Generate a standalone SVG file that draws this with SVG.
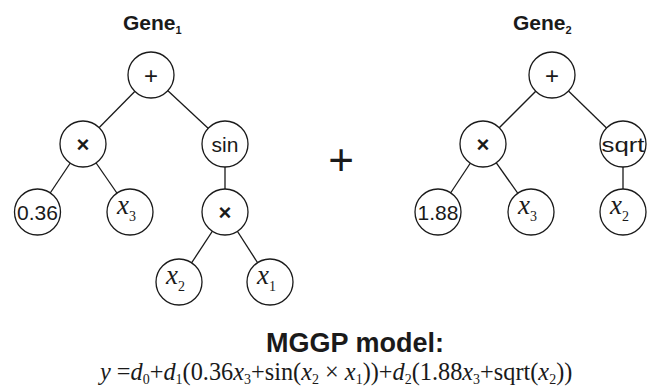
<svg xmlns="http://www.w3.org/2000/svg" width="652" height="386" viewBox="0 0 652 386">
  <style>
    .edge { stroke: #1a1a1a; stroke-width: 1.3; fill: none; }
    .node circle { fill: #ffffff; stroke: #1a1a1a; stroke-width: 1.3; }
    .lbl { font-family: "Liberation Sans", Arial, sans-serif; font-size: 21px; fill: #1a1a1a; text-anchor: middle; }
    .op { font-family: "Liberation Sans", Arial, sans-serif; font-size: 24px; fill: #1a1a1a; text-anchor: middle; }
    .mul { font-family: "Liberation Sans", Arial, sans-serif; font-size: 22px; font-weight: bold; fill: #1a1a1a; text-anchor: middle; }
    .var { font-family: "Liberation Serif", "Times New Roman", serif; font-size: 27px; font-style: italic; fill: #1a1a1a; }
    .sub { font-style: normal; font-size: 14px; }
    .title { font-family: "Liberation Sans", Arial, sans-serif; font-size: 21px; font-weight: bold; fill: #1a1a1a; }
    .tsub { font-size: 11px; }
    .eq { font-family: "Liberation Serif", "Times New Roman", serif; font-size: 24.3px; fill: #1a1a1a; }
    .it { font-style: italic; }
    .esub { font-size: 14px; }
  </style>

  <!-- tree edges -->
  <g id="connectors">
    <line class="edge" x1="151" y1="75" x2="83" y2="144"/>
    <line class="edge" x1="151" y1="75" x2="225" y2="144"/>
    <line class="edge" x1="83" y1="144" x2="37.5" y2="212"/>
    <line class="edge" x1="83" y1="144" x2="130" y2="212"/>
    <line class="edge" x1="225" y1="144" x2="225" y2="212"/>
    <line class="edge" x1="225" y1="212" x2="179" y2="282"/>
    <line class="edge" x1="225" y1="212" x2="270" y2="282"/>

    <line class="edge" x1="552" y1="75" x2="483" y2="144"/>
    <line class="edge" x1="552" y1="75" x2="623" y2="144"/>
    <line class="edge" x1="483" y1="144" x2="438" y2="212"/>
    <line class="edge" x1="483" y1="144" x2="531" y2="212"/>
    <line class="edge" x1="623" y1="144" x2="623" y2="212"/>
  </g>

  <!-- Gene 1 -->
  <text class="title" x="123" y="30">Gene<tspan class="tsub" dy="4">1</tspan></text>
  <g id="g1-plus" class="node"><circle cx="151" cy="75" r="23"/><text class="op" x="151" y="83.5">+</text></g>
  <g id="g1-times" class="node"><circle cx="83" cy="144" r="23"/><text class="mul" x="83" y="151.5">×</text></g>
  <g id="g1-sin" class="node"><circle cx="225" cy="144" r="23"/><text class="lbl" x="225" y="151.5">sin</text></g>
  <g id="g1-c036" class="node"><circle cx="37.5" cy="212" r="23"/><text class="lbl" x="37.5" y="219.5">0.36</text></g>
  <g id="g1-x3" class="node"><circle cx="130" cy="212" r="23"/><text class="var" x="117" y="214">x<tspan class="sub" dy="7">3</tspan></text></g>
  <g id="g1-times2" class="node"><circle cx="225" cy="212" r="23"/><text class="mul" x="225" y="219.5">×</text></g>
  <g id="g1-x2" class="node"><circle cx="179" cy="282" r="23"/><text class="var" x="166" y="284">x<tspan class="sub" dy="7">2</tspan></text></g>
  <g id="g1-x1" class="node"><circle cx="270" cy="282" r="23"/><text class="var" x="257" y="284">x<tspan class="sub" dy="7">1</tspan></text></g>

  <!-- sum of genes -->
  <text id="gene-sum" x="341" y="175" font-family="Liberation Sans, Arial, sans-serif" font-size="44" fill="#1a1a1a" text-anchor="middle">+</text>

  <!-- Gene 2 -->
  <text class="title" x="513" y="30">Gene<tspan class="tsub" dy="4">2</tspan></text>
  <g id="g2-plus" class="node"><circle cx="552" cy="75" r="23"/><text class="op" x="552" y="83.5">+</text></g>
  <g id="g2-times" class="node"><circle cx="483" cy="144" r="23"/><text class="mul" x="483" y="151.5">×</text></g>
  <g id="g2-sqrt" class="node"><circle cx="623" cy="144" r="23"/><text class="lbl" x="623" y="151.5" textLength="43" lengthAdjust="spacingAndGlyphs">sqrt</text></g>
  <g id="g2-c188" class="node"><circle cx="438" cy="212" r="23"/><text class="lbl" x="438" y="219.5">1.88</text></g>
  <g id="g2-x3" class="node"><circle cx="531" cy="212" r="23"/><text class="var" x="518" y="214">x<tspan class="sub" dy="7">3</tspan></text></g>
  <g id="g2-x2" class="node"><circle cx="623" cy="212" r="23"/><text class="var" x="610" y="214">x<tspan class="sub" dy="7">2</tspan></text></g>

  <!-- model expression -->
  <text x="355" y="351.5" font-family="Liberation Sans, Arial, sans-serif" font-size="27" font-weight="bold" fill="#1a1a1a" text-anchor="middle">MGGP model:</text>
  <text class="eq" x="100" y="380"><tspan class="it">y</tspan> =<tspan class="it">d</tspan><tspan class="esub" dy="4">0</tspan><tspan dy="-4">+</tspan><tspan class="it">d</tspan><tspan class="esub" dy="4">1</tspan><tspan dy="-4">(0.36</tspan><tspan class="it">x</tspan><tspan class="esub" dy="4">3</tspan><tspan dy="-4">+sin(</tspan><tspan class="it">x</tspan><tspan class="esub" dy="4">2</tspan><tspan dy="-4"> × </tspan><tspan class="it">x</tspan><tspan class="esub" dy="4">1</tspan><tspan dy="-4">))+</tspan><tspan class="it">d</tspan><tspan class="esub" dy="4">2</tspan><tspan dy="-4">(1.88</tspan><tspan class="it">x</tspan><tspan class="esub" dy="4">3</tspan><tspan dy="-4">+sqrt(</tspan><tspan class="it">x</tspan><tspan class="esub" dy="4">2</tspan><tspan dy="-4">))</tspan></text>
</svg>
